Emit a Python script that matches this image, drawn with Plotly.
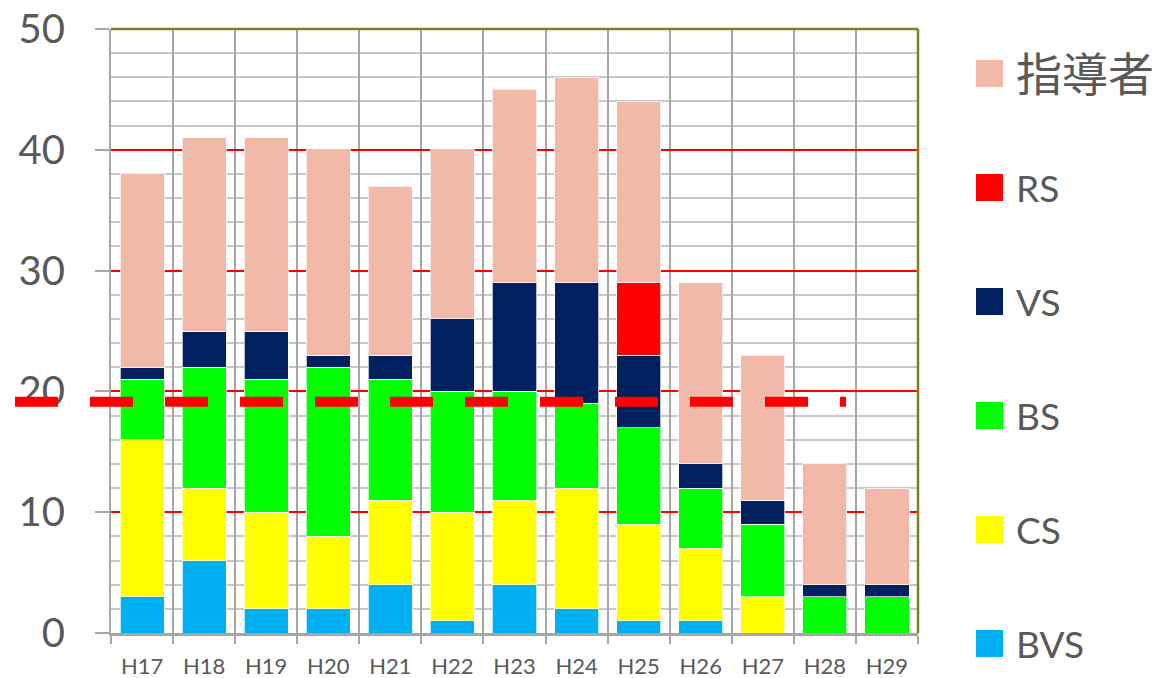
import plotly.graph_objects as go

categories = ["H17", "H18", "H19", "H20", "H21", "H22", "H23", "H24", "H25", "H26", "H27", "H28", "H29"]

bvs = [3, 6, 2, 2, 4, 1, 4, 2, 1, 1, 0, 0, 0]
cs = [13, 6, 8, 6, 7, 9, 7, 10, 8, 6, 3, 0, 0]
bs = [5, 10, 11, 14, 10, 10, 9, 7, 8, 5, 6, 3, 3]
vs = [1, 3, 4, 1, 2, 6, 9, 10, 6, 2, 2, 1, 1]
rs = [0, 0, 0, 0, 0, 0, 0, 0, 6, 0, 0, 0, 0]
leaders = [16, 16, 16, 17, 14, 14, 16, 17, 15, 15, 12, 10, 8]

series_names = ["BVS", "CS", "BS", "VS", "RS", "指導者"]
series_values = [bvs, cs, bs, vs, rs, leaders]
series_colors = ["#00B0F0", "#FFFF00", "#00FF00", "#002060", "#FF0000", "#F2B9A8"]

target_value = 19.15
y_max = 50
y_ticks = [0, 10, 20, 30, 40, 50]

FONT = "Lato, 'Noto Sans CJK JP', sans-serif"
TEXT_COLOR = "#595959"

# body margin is reset to 0 by post_script, so the figure fills the window
W, H = 1159, 678
ML, MT = 111, 29
PW, PH = 807, 604
MR, MB = W - ML - PW, H - MT - PH


def px_x(x):
    return (x - ML) / PW


def px_y(y):
    return 1 - (y - MT) / PH


fig = go.Figure()
for name, vals, col in zip(series_names, series_values, series_colors):
    fig.add_trace(go.Bar(
        x=categories, y=vals, name=name,
        marker=dict(color=col, line=dict(color="rgba(255,255,255,0.7)", width=1)),
        showlegend=False,
    ))

fig.update_layout(
    barmode="stack",
    bargap=0.29,
    width=W, height=H,
    margin=dict(l=ML, r=MR, t=MT, b=MB, autoexpand=False),
    plot_bgcolor="white",
    paper_bgcolor="white",
    font=dict(family=FONT, color=TEXT_COLOR),
)

fig.update_yaxes(
    range=[0, y_max], tickvals=y_ticks, automargin=False,
    tickfont=dict(size=40, family=FONT, color=TEXT_COLOR),
    ticks="outside", ticklen=14, tickwidth=2, tickcolor="#A6A6A6",
    ticklabelstandoff=22, ticklabeloverflow="allow",
    showgrid=True, gridcolor="#FF0000", gridwidth=1.5,
    minor=dict(dtick=2, ticks="", showgrid=True, gridcolor="#C8C8C8", gridwidth=2),
    showline=True, linecolor="#A6A6A6", linewidth=2,
    zeroline=False,
)
fig.update_xaxes(
    tickson="boundaries", automargin=False,
    ticks="outside", ticklen=8, tickwidth=2, tickcolor="#A6A6A6",
    ticklabelstandoff=12, ticklabeloverflow="allow",
    tickfont=dict(size=22, family=FONT, color=TEXT_COLOR),
    showgrid=True, gridcolor="#A6A6A6", gridwidth=2,
    showline=True, linecolor="#A6A6A6", linewidth=2.5,
)

# olive top and right border
fig.add_shape(type="line", xref="paper", yref="paper", x0=0, x1=1, y0=1, y1=1,
              line=dict(color="#7F8020", width=2.5))
fig.add_shape(type="line", xref="paper", yref="paper", x0=1, x1=1, y0=0, y1=1,
              line=dict(color="#7F8020", width=2.5))

# dashed target line
fig.add_shape(type="line", xref="paper", yref="paper",
              x0=px_x(15), x1=px_x(846),
              y0=target_value / y_max, y1=target_value / y_max,
              line=dict(color="#FF0000", width=10, dash="43px,32px"))

# legend (top item = last series)
legend_top = 73.5
legend_step = 114
for i, (name, col) in enumerate(zip(series_names[::-1], series_colors[::-1])):
    yc_px = legend_top + i * legend_step
    fig.add_shape(type="rect", xref="paper", yref="paper",
                  x0=px_x(976), x1=px_x(1003),
                  y0=px_y(yc_px + 13.5), y1=px_y(yc_px - 13.5),
                  fillcolor=col, line=dict(width=0))
    size = 46 if not name.isascii() else 37
    fig.add_annotation(xref="paper", yref="paper", x=px_x(1014), y=px_y(yc_px),
                       text=name, showarrow=False, xanchor="left", yanchor="middle",
                       font=dict(size=size, family=FONT, color=TEXT_COLOR))

fig.write_html(
    "out.html",
    config={"displayModeBar": False},
    post_script="document.body.style.margin='0px';document.body.style.overflow='hidden';",
)
